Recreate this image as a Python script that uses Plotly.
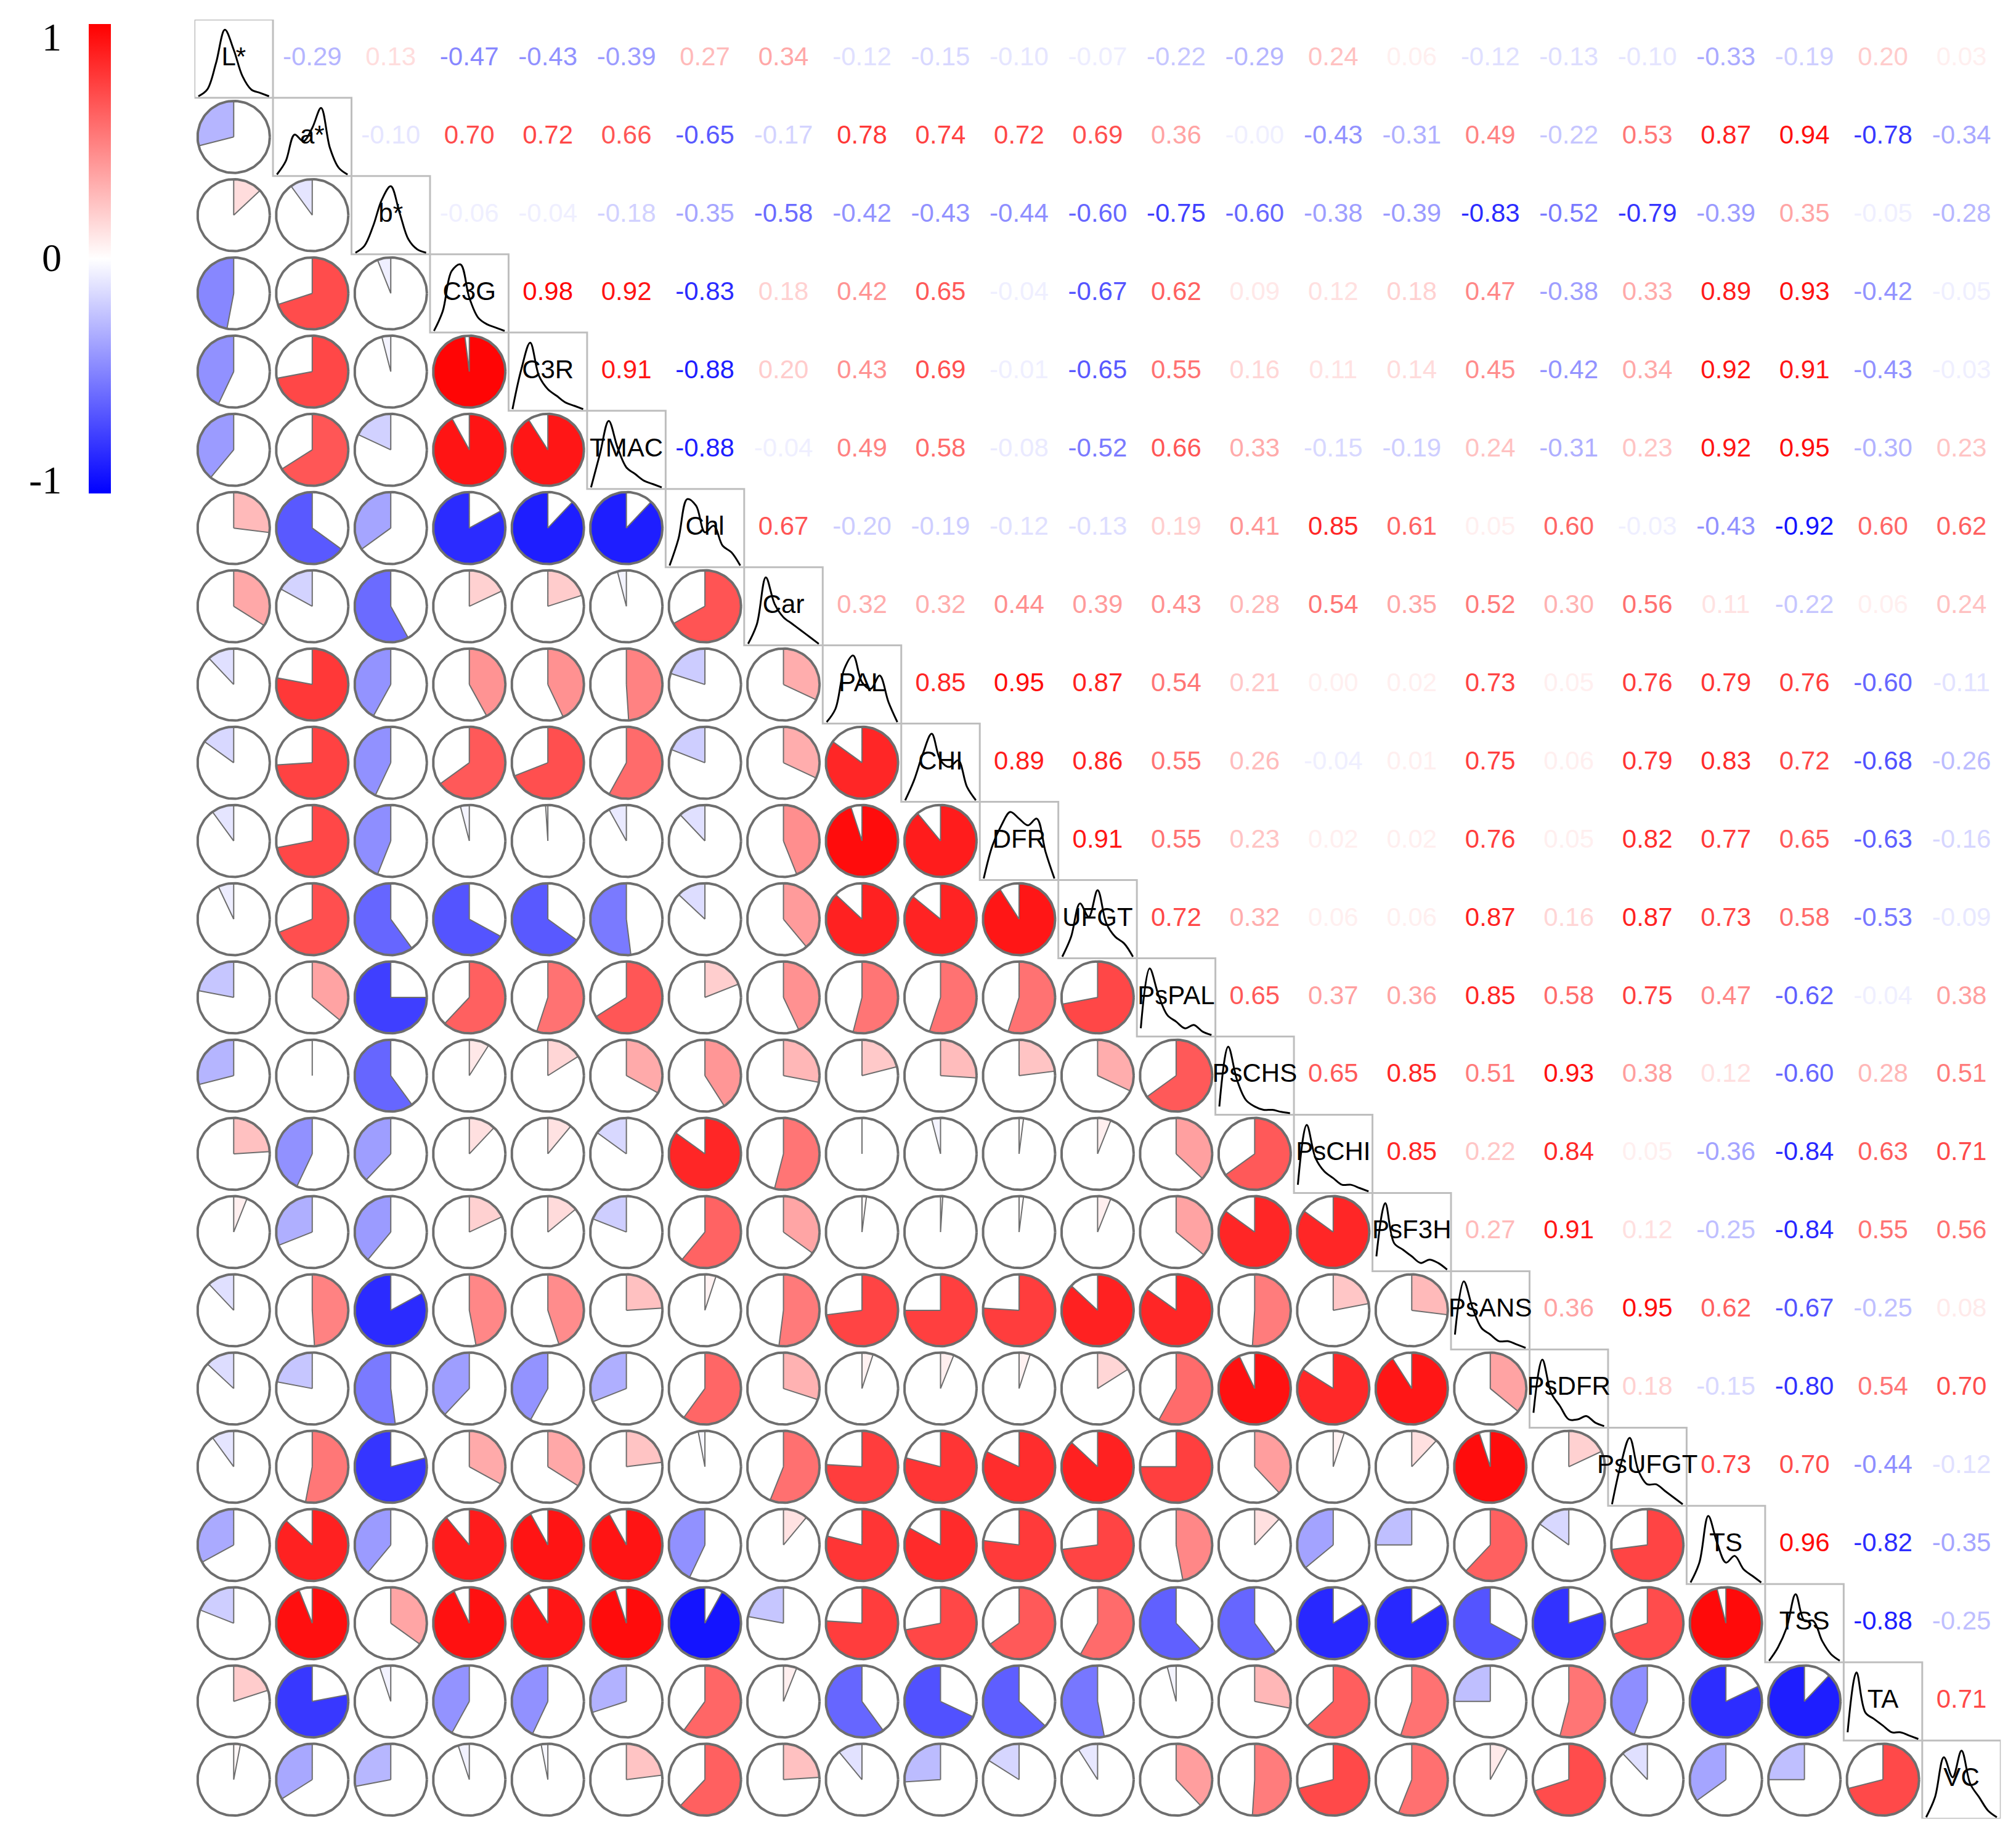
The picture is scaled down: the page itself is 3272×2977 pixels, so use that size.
import numpy as np
import plotly.graph_objects as go

labels = ["L*","a*","b*","C3G","C3R","TMAC","Chl","Car","PAL","CHI","DFR","UFGT",
          "PsPAL","PsCHS","PsCHI","PsF3H","PsANS","PsDFR","PsUFGT","TS","TSS","TA","VC"]

upper = [
 [-0.29,0.13,-0.47,-0.43,-0.39,0.27,0.34,-0.12,-0.15,-0.10,-0.07,-0.22,-0.29,0.24,0.06,-0.12,-0.13,-0.10,-0.33,-0.19,0.20,0.03],
 [-0.10,0.70,0.72,0.66,-0.65,-0.17,0.78,0.74,0.72,0.69,0.36,-0.001,-0.43,-0.31,0.49,-0.22,0.53,0.87,0.94,-0.78,-0.34],
 [-0.06,-0.04,-0.18,-0.35,-0.58,-0.42,-0.43,-0.44,-0.60,-0.75,-0.60,-0.38,-0.39,-0.83,-0.52,-0.79,-0.39,0.35,-0.05,-0.28],
 [0.98,0.92,-0.83,0.18,0.42,0.65,-0.04,-0.67,0.62,0.09,0.12,0.18,0.47,-0.38,0.33,0.89,0.93,-0.42,-0.05],
 [0.91,-0.88,0.20,0.43,0.69,-0.01,-0.65,0.55,0.16,0.11,0.14,0.45,-0.42,0.34,0.92,0.91,-0.43,-0.03],
 [-0.88,-0.04,0.49,0.58,-0.08,-0.52,0.66,0.33,-0.15,-0.19,0.24,-0.31,0.23,0.92,0.95,-0.30,0.23],
 [0.67,-0.20,-0.19,-0.12,-0.13,0.19,0.41,0.85,0.61,0.05,0.60,-0.03,-0.43,-0.92,0.60,0.62],
 [0.32,0.32,0.44,0.39,0.43,0.28,0.54,0.35,0.52,0.30,0.56,0.11,-0.22,0.06,0.24],
 [0.85,0.95,0.87,0.54,0.21,0.00,0.02,0.73,0.05,0.76,0.79,0.76,-0.60,-0.11],
 [0.89,0.86,0.55,0.26,-0.04,0.01,0.75,0.06,0.79,0.83,0.72,-0.68,-0.26],
 [0.91,0.55,0.23,0.02,0.02,0.76,0.05,0.82,0.77,0.65,-0.63,-0.16],
 [0.72,0.32,0.06,0.06,0.87,0.16,0.87,0.73,0.58,-0.53,-0.09],
 [0.65,0.37,0.36,0.85,0.58,0.75,0.47,-0.62,-0.04,0.38],
 [0.65,0.85,0.51,0.93,0.38,0.12,-0.60,0.28,0.51],
 [0.85,0.22,0.84,0.05,-0.36,-0.84,0.63,0.71],
 [0.27,0.91,0.12,-0.25,-0.84,0.55,0.56],
 [0.36,0.95,0.62,-0.67,-0.25,0.08],
 [0.18,-0.15,-0.80,0.54,0.70],
 [0.73,0.70,-0.44,-0.12],
 [0.96,-0.82,-0.35],
 [-0.88,-0.25],
 [0.71],
]

# rough density shapes (relative heights)
dens = {
 "L*":[0,.1,.5,1,.7,.3,.1,.05,0], "a*":[0,.2,.6,.5,.7,1,.4,.1,0], "b*":[0,.1,.4,.8,1,.6,.2,.05,0],
 "C3G":[0,.3,.9,1,.5,.2,.1,.05,0], "C3R":[0,.6,1,.5,.3,.2,.1,.05,0], "TMAC":[0,.5,1,.6,.3,.2,.1,.05,0],
 "Chl":[0,.4,1,.9,.5,.6,.3,.2,0], "Car":[0,.3,1,.6,.4,.3,.2,.1,0], "PAL":[0,.2,.8,1,.6,.5,.7,.3,0],
 "CHI":[0,.3,.7,1,.6,.5,.6,.2,0], "DFR":[0,.5,.8,1,.9,.8,.9,.4,0], "UFGT":[0,.3,.8,.6,1,.5,.3,.2,0],
 "PsPAL":[.1,1,.6,.3,.2,.1,.15,.05,0], "PsCHS":[.1,1,.5,.2,.1,.05,.05,.02,0], "PsCHI":[.1,1,.5,.3,.2,.1,.1,.05,0],
 "PsF3H":[.2,1,.4,.3,.2,.1,.15,.1,0], "PsANS":[.2,1,.6,.3,.2,.1,.1,.05,0], "PsDFR":[.2,1,.5,.3,.1,.1,.15,.05,0],
 "PsUFGT":[0,.6,1,.5,.3,.3,.2,.1,0], "TS":[0,.3,1,.6,.3,.4,.2,.1,0], "TSS":[0,.2,.5,1,.6,.6,.3,.1,0],
 "TA":[.1,1,.4,.3,.2,.1,.1,.05,0], "VC":[0,.3,.9,.6,1,.5,.3,.1,0],
}

n = len(labels)
R = np.eye(n)
for i, row in enumerate(upper):
    for k, v in enumerate(row):
        j = i + 1 + k
        R[i, j] = R[j, i] = v

def col(v, floor=0.0):
    a = max(abs(v), floor)
    if v >= 0:
        c = (255, int(255*(1-a)), int(255*(1-a)))
    else:
        c = (int(255*(1-a)), int(255*(1-a)), 255)
    return "rgb(%d,%d,%d)" % c

fig = go.Figure()
rad = 0.46
ox, oy = [], []
for i in range(n):
    for j in range(i):
        v = R[i, j]
        if abs(v) > 0.005:
            t = np.linspace(0, 2*np.pi*v, max(3, int(abs(v)*80)))
            xs = [j] + list(j + rad*np.sin(t)) + [j]
            ys = [i] + list(i - rad*np.cos(t)) + [i]
            fig.add_trace(go.Scatter(x=xs, y=ys, fill="toself", fillcolor=col(v), mode="lines",
                                     line=dict(color="rgb(110,110,110)", width=2), hoverinfo="skip", showlegend=False))
        else:
            fig.add_trace(go.Scatter(x=[j, j], y=[i, i-rad], mode="lines",
                                     line=dict(color="rgb(110,110,110)", width=2), hoverinfo="skip", showlegend=False))
        t = np.linspace(0, 2*np.pi, 100)
        ox += list(j + rad*np.cos(t)) + [None]
        oy += list(i + rad*np.sin(t)) + [None]
fig.add_trace(go.Scatter(x=ox, y=oy, mode="lines", line=dict(color="rgb(110,110,110)", width=4),
                         hoverinfo="skip", showlegend=False))

bx, by, dx, dy = [], [], [], []
for i, lab in enumerate(labels):
    bx += [i-0.5, i+0.5, i+0.5, i-0.5, i-0.5, None]
    by += [i-0.5, i-0.5, i+0.5, i+0.5, i-0.5, None]
    d = dens[lab]
    xs = np.linspace(i-0.45, i+0.45, len(d))
    dx += list(xs) + [None]
    dy += [i+0.48 - 0.85*h for h in d] + [None]
fig.add_trace(go.Scatter(x=bx, y=by, mode="lines", line=dict(color="rgb(190,190,190)", width=3),
                         hoverinfo="skip", showlegend=False))
fig.add_trace(go.Scatter(x=dx, y=dy, mode="lines", line=dict(color="black", width=3, shape="spline"),
                         hoverinfo="skip", showlegend=False))
fig.add_trace(go.Scatter(x=list(range(n)), y=list(range(n)), mode="text", text=labels,
                         textfont=dict(family="Liberation Sans", size=42, color="black"),
                         hoverinfo="skip", showlegend=False))

tx, ty, tt, tc = [], [], [], []
for i in range(n):
    for j in range(i+1, n):
        v = R[i, j]
        tx.append(j); ty.append(i)
        tt.append("-0.00" if -0.005 < v < 0 else "%.2f" % v)
        tc.append(col(v, floor=0.06))
fig.add_trace(go.Scatter(x=tx, y=ty, mode="text", text=tt,
                         textfont=dict(family="Liberation Sans", size=42, color=tc),
                         hoverinfo="skip", showlegend=False))

fig.add_trace(go.Scatter(x=[None], y=[None], mode="markers", showlegend=False,
    marker=dict(color=[0], cmin=-1, cmax=1,
                colorscale=[[0, "rgb(0,0,255)"], [0.5, "rgb(255,255,255)"], [1, "rgb(255,0,0)"]],
                colorbar=dict(x=0.0415, xanchor="left", y=0.9896, yanchor="top", len=0.256, lenmode="fraction",
                              xpad=0, ypad=0, thickness=36, outlinewidth=0, showticklabels=False, ticks=""))))
for v, yp in [("1", 0.9825), ("0", 0.862), ("-1", 0.7407)]:
    fig.add_annotation(x=0.0287, y=yp, xref="paper", yref="paper", text=v, showarrow=False,
                       xanchor="right", yanchor="middle", font=dict(family="Liberation Serif", size=64, color="black"))

fig.update_xaxes(range=[-0.5, n-0.5], domain=[0.094, 0.990], visible=False)
fig.update_yaxes(range=[n-0.5, -0.5], domain=[0.011, 0.992], visible=False)
fig.update_layout(width=3272, height=2977, margin=dict(l=0, r=0, t=0, b=0),
                  plot_bgcolor="white", paper_bgcolor="white")
fig.write_html("out.html")
